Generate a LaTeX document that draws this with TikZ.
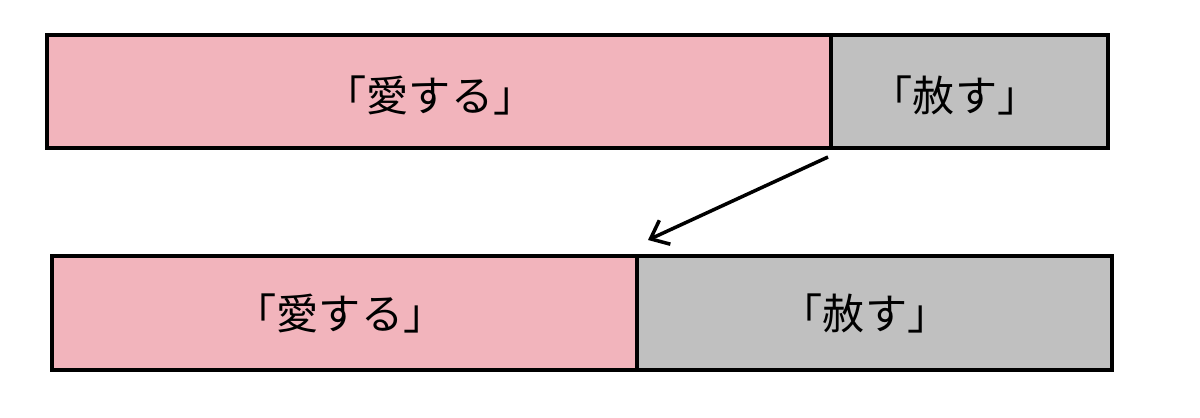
\documentclass[tikz,border=0pt]{standalone}
\usetikzlibrary{arrows.meta}
\usepackage{fontspec}
\newfontfamily\cjk{Noto Sans CJK JP}
\definecolor{pinkbar}{HTML}{F2B4BC}
\definecolor{graybar}{HTML}{C0C0C0}
\begin{document}
\begin{tikzpicture}[x=0.02cm,y=-0.02cm,
  bar/.style={draw=black,line width=1.8pt},
  lbl/.style={font=\cjk\fontsize{24}{24}\selectfont}]
\useasboundingbox (0,0) rectangle (1200,417);
\fill[pinkbar] (47,35) rectangle (831,148);
\fill[graybar] (831,35) rectangle (1108,148);
\draw[bar] (47,35) rectangle (1108,148);
\draw[bar] (831,35) -- (831,148);
\node[lbl] (a1) at (430,95) {「愛する」};
\node[lbl] (f1) at (955,95) {「赦す」};
\fill[pinkbar] (52,256) rectangle (637,370);
\fill[graybar] (637,256) rectangle (1112,370);
\draw[bar] (52,256) rectangle (1112,370);
\draw[bar] (637,256) -- (637,370);
\node[lbl] (a2) at (340,313) {「愛する」};
\node[lbl] (f2) at (865,313) {「赦す」};
\coordinate (s) at (828,157);
\coordinate (e) at (648,240);
\draw[line width=2pt,-{Straight Barb[length=9pt,width=15pt]}] (s) -- (e);
\end{tikzpicture}
\end{document}
